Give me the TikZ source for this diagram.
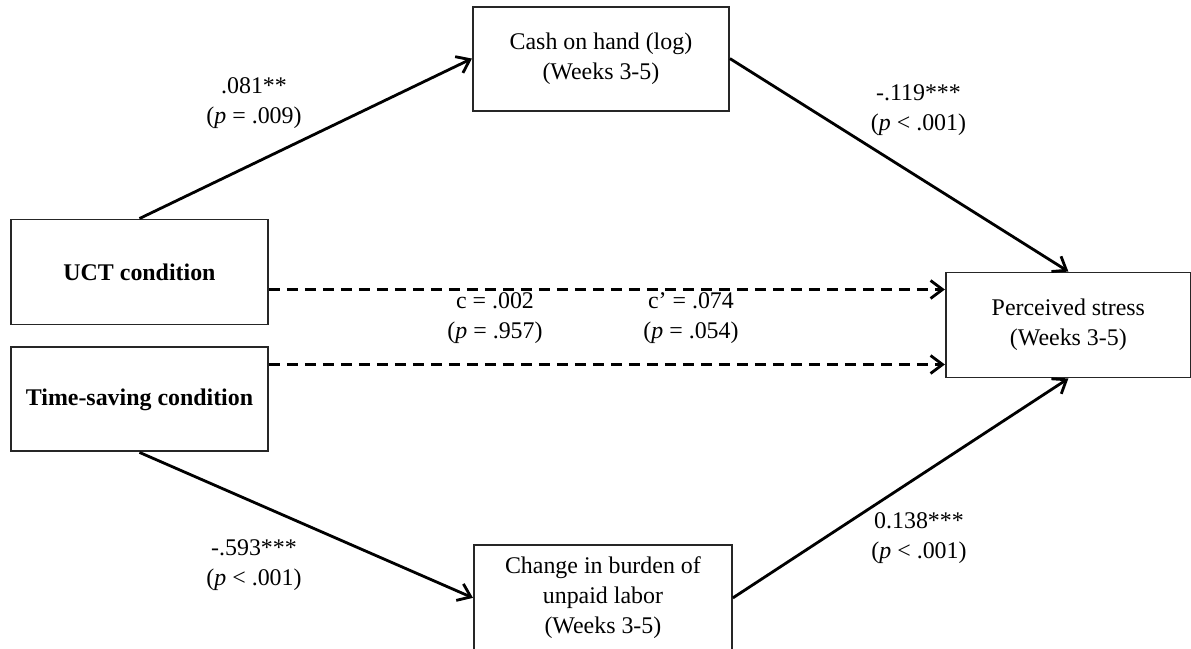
\documentclass[tikz,border=0pt]{standalone}
\usepackage{fontspec}
\setmainfont{Liberation Serif}
\usetikzlibrary{arrows.meta, positioning}

\begin{document}
\begin{tikzpicture}[
    font=\fontsize{13.6}{17}\selectfont,
    var/.style={
        draw=black!85, line width=1.1pt,
        rectangle, align=center,
        minimum width=5.14cm, minimum height=2.1cm,
    },
    cond/.style={
        var, font=\fontsize{13.6}{17}\selectfont\bfseries,
    },
    coef/.style={
        align=center, inner sep=1pt,
    },
    link/.style={
        -{Straight Barb[length=2.4mm, width=3.6mm]}, line width=1.6pt
    },
    dlink/.style={
        link, dash pattern=on 0.22cm off 0.14cm
    },
]
\useasboundingbox (-2.79,5.44) rectangle (21.03,-7.52);

\node[cond] (uct) {UCT condition};
\node[cond, below=0.42cm of uct, minimum height=2.08cm] (tsc) {Time-saving condition};
\node[var, above right=2.14cm and 4.06cm of uct, minimum width=5.12cm, minimum height=2.08cm] (cash) {Cash on hand (log)\\(Weeks 3-5)};
\node[var, below right=3.2cm and 4.3cm of cash, minimum width=4.9cm] (ps) {Perceived stress\\(Weeks 3-5)};
\node[var, below right=1.84cm and 4.08cm of tsc, minimum width=5.16cm] (chg) {Change in burden of\\unpaid labor\\(Weeks 3-5)};

% direct paths enter the outcome box
\coordinate (d1) at ([yshift=0.71cm]ps.west);
\coordinate (d2) at ([yshift=-0.79cm]ps.west);

\draw[link] (uct.north) -- (cash.west);
\draw[link] (cash.east) -- (ps.north);
\draw[link] (tsc.south) -- (chg.west);
\draw[link] (chg.east) -- (ps.south);
\draw[dlink] (uct.east |- d1) -- (d1);
\draw[dlink] (tsc.east |- d2) -- (d2);

% coefficients
\node[coef] (a1) at (2.29,3.38) {.081**\\(\textit{p} = .009)};
\node[coef] (b1) at (15.58,3.23) {-.119***\\(\textit{p} < .001)};
\node[coef] (c1) at (7.11,-0.92) {c = .002\\(\textit{p} = .957)};
\node[coef] (c2) at (11.03,-0.92) {c' = .074\\(\textit{p} = .054)};
\node[coef] (a2) at (2.29,-5.87) {-.593***\\(\textit{p} < .001)};
\node[coef] (b2) at (15.59,-5.32) {0.138***\\(\textit{p} < .001)};
\end{tikzpicture}
\end{document}
